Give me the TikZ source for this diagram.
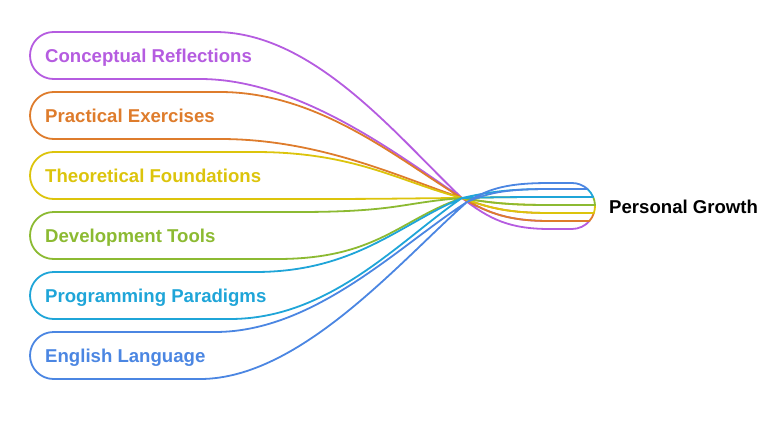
\documentclass[tikz,border=0pt]{standalone}
\usepackage{fontspec}
\setmainfont{Liberation Sans}
\definecolor{reflect}{HTML}{B55CE0}
\definecolor{practice}{HTML}{DE7C2C}
\definecolor{theory}{HTML}{DCC40C}
\definecolor{tools}{HTML}{8CBA32}
\definecolor{paradigm}{HTML}{1FA5D8}
\definecolor{english}{HTML}{4B86E2}

\begin{document}
\begin{tikzpicture}[x=1pt, y=-1pt,
  ribbon/.style={line width=1.8pt, line join=round},
  itemtext/.style={anchor=base west, inner sep=0pt, font=\fontsize{18.6}{22}\selectfont\bfseries}]

\useasboundingbox (0,0) rectangle (784,434);
\coordinate (pinch) at (462,198);
\coordinate (pinchlow) at (467,202);
\coordinate (hub) at (572,206);

\foreach \k/\hue/\name/\xtop/\xbot/\rtop/\rbot/\via in {
  0/reflect/Conceptual Reflections/215/200/229/221/pinch,
  1/practice/Practical Exercises/220/220/221/213/pinch,
  2/theory/Theoretical Foundations/255/297/213/205/pinch,
  3/tools/Development Tools/297/277/205/197/pinch,
  4/paradigm/Programming Paradigms/255/230/197/189/pinch,
  5/english/English Language/215/200/189/183/pinchlow} {
  \pgfmathsetmacro\ytop{32+60*\k}
  \pgfmathsetmacro\ybot{79+60*\k}
  \pgfmathsetmacro\angtop{asin((\rtop-206)/23)}
  \pgfmathsetmacro\angbot{asin((\rbot-206)/23)}
  \pgfmathsetmacro\xend{572+sqrt(max(0,529-(\rtop-206)^2))}
  \draw[ribbon, draw=\hue] (53.5,\ytop) -- (\xtop,\ytop)
    .. controls (\xtop+100,\ytop) and (400,{198-0.35*(198-\ytop)}) .. (\via)
    .. controls (490,{198+0.7*(\rtop-198)}) and (510,\rtop) .. (550,\rtop)
    -- (\xend,\rtop) arc[start angle=\angtop, end angle=\angbot, radius=23]
    -- (550,\rbot)
    .. controls (510,\rbot) and (490,{198+0.7*(\rbot-198)}) .. (\via)
    .. controls (400,{198-0.35*(198-\ybot)}) and (\xbot+100,\ybot) .. (\xbot,\ybot)
    -- (53.5,\ybot) arc[start angle=90, end angle=270, radius=23.5] -- cycle;
  \node[itemtext, text=\hue] (item\k) at (45,{62.5+60*\k}) {\name};
}

\node[itemtext] (growth) at (609,213.5) {Personal Growth};

\end{tikzpicture}
\end{document}
